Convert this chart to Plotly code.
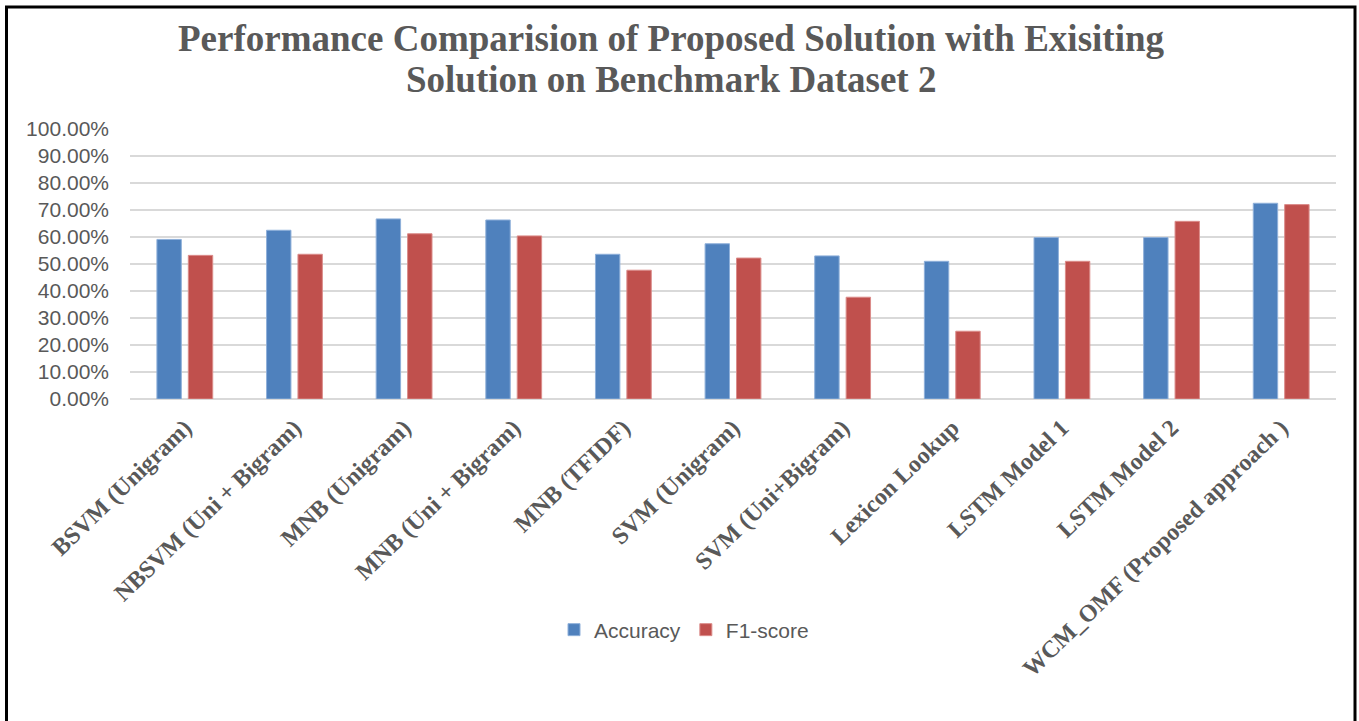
import plotly.graph_objects as go

categories = ["BSVM (Unigram)", "NBSVM (Uni + Bigram)", "MNB (Unigram)", "MNB (Uni + Bigram)",
              "MNB (TFIDF)", "SVM (Unigram)", "SVM (Uni+Bigram)", "Lexicon Lookup",
              "LSTM Model 1", "LSTM Model 2", "WCM_OMF (Proposed approach )"]
accuracy = [0.591, 0.625, 0.667, 0.663, 0.536, 0.575, 0.530, 0.510, 0.598, 0.598, 0.725]
f1_score = [0.532, 0.536, 0.612, 0.604, 0.477, 0.522, 0.377, 0.251, 0.510, 0.658, 0.720]
tick_vals = [i / 10 for i in range(11)]
tick_text = [f"{v*100:.2f}%" for v in tick_vals]
title_lines = ["Performance Comparision of Proposed Solution with Exisiting",
               "Solution on Benchmark Dataset 2"]

W, H = 1359, 721
L, R, T, B = 130, 23, 129, 322
pw = W - L - R
ph = H - T - B

fig = go.Figure()
fig.add_trace(go.Bar(x=categories, y=accuracy, name="Accuracy",
                     marker=dict(color="#4F81BD", line=dict(color="#8FB0DA", width=1))))
fig.add_trace(go.Bar(x=categories, y=f1_score, name="F1-score",
                     marker=dict(color="#C0504D", line=dict(color="#DB8C8A", width=1))))

def px_x(p):
    return (p - L) / pw

def px_y(p):
    return (H - B - p) / ph

fig.update_layout(
    width=W, height=H,
    margin=dict(l=L, r=R, t=T, b=B),
    paper_bgcolor="white", plot_bgcolor="white",
    barmode="group", bargap=0.427, bargroupgap=0.223,
    xaxis=dict(tickangle=-44, showgrid=False, showline=False, ticks="", ticklabelstandoff=9,
               tickfont=dict(family="Liberation Serif", size=24, color="#595959", weight="bold")),
    yaxis=dict(range=[0, 1.0], tickvals=tick_vals, ticktext=tick_text,
               showgrid=True, gridcolor="#D9D9D9", gridwidth=1.5,
               zeroline=True, zerolinecolor="#D9D9D9", zerolinewidth=1.5,
               showline=False, ticks="", ticklen=0, ticklabelstandoff=20,
               tickfont=dict(family="Liberation Sans", size=21, color="#595959")),
    legend=dict(orientation="h", x=px_x(684), xanchor="center", y=px_y(630), yanchor="middle",
                font=dict(family="Liberation Sans", size=21, color="#595959"),
                itemwidth=30, traceorder="normal"),
    showlegend=True,
)

for line, cy in zip(title_lines, [38, 79]):
    fig.add_annotation(text=line, xref="paper", yref="paper",
                       x=px_x(671), y=px_y(cy), xanchor="center", yanchor="middle",
                       showarrow=False,
                       font=dict(family="Liberation Serif", size=37, color="#595959", weight="bold"))

fig.add_shape(type="rect", xref="paper", yref="paper",
              x0=px_x(6.5), x1=px_x(1355), y0=px_y(726), y1=px_y(7),
              line=dict(color="black", width=3), fillcolor="rgba(0,0,0,0)", layer="above")

fig.write_html("out.html")
